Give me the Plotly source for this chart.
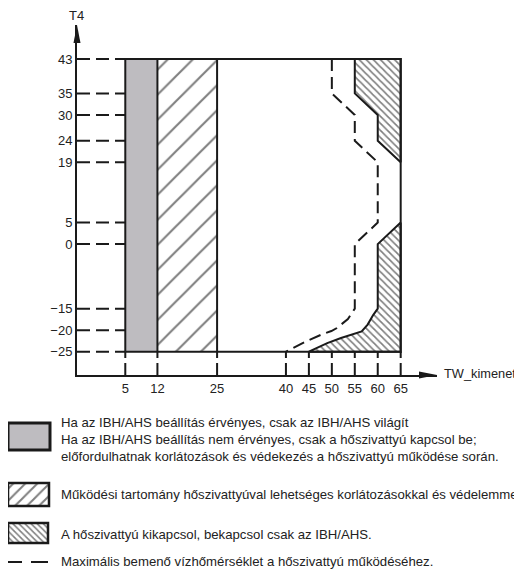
import plotly.graph_objects as go

# ---------------- data ----------------
x_ticks = [5, 12, 25, 40, 45, 50, 55, 60, 65]
y_ticks = [43, 35, 30, 24, 19, 5, 0, -15, -20, -25]
t4_min, t4_max = -25, 43
tw_min, tw_max = 5, 65
ibh_only_tw = [5, 12]
hp_limited_tw = [12, 25]
off_top_tw = [55, 55, 60, 60, 65, 65]
off_top_t4 = [43, 35, 30, 24, 19, 43]
off_bot_tw = [65, 60, 60, 59, 57.8, 56.5, 52, 49, 45, 65]
off_bot_t4 = [5, 0, -15, -16.5, -18.7, -20.3, -21.8, -23, -25, -25]
max_in_tw = [50, 50, 55, 55, 60, 60, 55, 55, 53.5, 51.1, 49.9, 47.8, 44, 40]
max_in_t4 = [43, 35, 30, 24, 19, 5, 0, -15, -17.4, -19.5, -20.2, -21, -22.8, -25]

legend_texts = [
    "Ha az IBH/AHS beállítás érvényes, csak az IBH/AHS világít",
    "Ha az IBH/AHS beállítás nem érvényes, csak a hőszivattyú kapcsol be;",
    "előfordulhatnak korlátozások és védekezés a hőszivattyú működése során.",
    "Működési tartomány hőszivattyúval lehetséges korlátozásokkal és védelemmel.",
    "A hőszivattyú kikapcsol, bekapcsol csak az IBH/AHS.",
    "Maximális bemenő vízhőmérséklet a hőszivattyú működéséhez.",
]

# ---------------- style / layout ----------------
INK = "#1a1a1a"
GRAY = "#bebcc0"
TXT = "#222222"
FONT = "Liberation Sans, Arial, sans-serif"

OFF = 8                      # page body margin
W, H = 522 - OFF, 580 - OFF  # figure size so it fits the window

X_LO, X_HI = -5.52, 72.91
Y_LO, Y_HI = -30.41, 50.9
AX_L, AX_R, AX_T, AX_B = 77, 437, 25, 375  # screen-pixel frame of the axes


def PX(x):
    return (x - OFF) / W


def PY(y):
    return 1 - (y - OFF) / H


fig = go.Figure()


def rect_xy(xs, y0, y1):
    a, b = xs
    return [a, b, b, a, a], [y0, y0, y1, y1, y0]


# IBH/AHS only band (gray)
bx, by = rect_xy(ibh_only_tw, t4_min, t4_max)
fig.add_trace(go.Scatter(x=bx, y=by, mode="lines", fill="toself", fillcolor=GRAY,
                         line=dict(width=0), hoverinfo="skip"))

# heat pump with limits band ("/" hatch)
bx, by = rect_xy(hp_limited_tw, t4_min, t4_max)
fig.add_trace(go.Scatter(x=bx, y=by, mode="lines", fill="toself", fillcolor="white",
                         fillpattern=dict(shape="/", size=17.7, solidity=0.12,
                                          fgcolor="#000000", bgcolor="white"),
                         line=dict(width=0), hoverinfo="skip"))

# heat pump off regions ("\" hatch)
for xs, ys in [(off_top_tw, off_top_t4), (off_bot_tw, off_bot_t4)]:
    fig.add_trace(go.Scatter(x=xs + [xs[0]], y=ys + [ys[0]], mode="lines", fill="toself",
                             fillcolor="white",
                             fillpattern=dict(shape="\\", size=5.0, solidity=0.33,
                                              fgcolor="#000000", bgcolor="white"),
                             line=dict(width=2, color=INK), hoverinfo="skip"))

# dashed tick stubs
sx, sy = [], []
for yv in y_ticks:
    sx += [X_LO, tw_min, None]
    sy += [yv, yv, None]
fig.add_trace(go.Scatter(x=sx, y=sy, mode="lines", line=dict(width=2, color=INK, dash="13px,6px"),
                         hoverinfo="skip"))
sx, sy = [], []
for xv in x_ticks:
    sx += [xv, xv, None]
    sy += [Y_LO, t4_min, None]
fig.add_trace(go.Scatter(x=sx, y=sy, mode="lines", line=dict(width=2, color=INK, dash="12px,5px"),
                         hoverinfo="skip"))

# envelope outline
ex, ey = rect_xy([tw_min, tw_max], t4_min, t4_max)
fig.add_trace(go.Scatter(x=ex, y=ey, mode="lines", line=dict(width=2, color=INK), hoverinfo="skip"))
vx, vy = [], []
for xv in [ibh_only_tw[1], hp_limited_tw[1]]:
    vx += [xv, xv, None]
    vy += [t4_min, t4_max, None]
fig.add_trace(go.Scatter(x=vx, y=vy, mode="lines", line=dict(width=2, color=INK), hoverinfo="skip"))

# maximum inlet water temperature
fig.add_trace(go.Scatter(x=max_in_tw, y=max_in_t4, mode="lines",
                         line=dict(width=2, color=INK, dash="12px,6px"), hoverinfo="skip"))

# ---------------- legend (overlay axes in screen-pixel units) ----------------
lx, ly = rect_xy([8, 50], 423, 450)
fig.add_trace(go.Scatter(x=lx, y=ly, xaxis="x2", yaxis="y2", mode="lines", fill="toself",
                         fillcolor=GRAY, line=dict(width=3, color=INK), hoverinfo="skip"))
lx, ly = rect_xy([8, 49], 483, 506)
fig.add_trace(go.Scatter(x=lx, y=ly, xaxis="x2", yaxis="y2", mode="lines", fill="toself",
                         fillcolor="white",
                         fillpattern=dict(shape="/", size=8.5, solidity=0.24, fgcolor="#000000", bgcolor="white"),
                         line=dict(width=2.5, color=INK), hoverinfo="skip"))
lx, ly = rect_xy([8, 48], 523, 543)
fig.add_trace(go.Scatter(x=lx, y=ly, xaxis="x2", yaxis="y2", mode="lines", fill="toself",
                         fillcolor="white",
                         fillpattern=dict(shape="\\", size=4.3, solidity=0.36, fgcolor="#000000", bgcolor="white"),
                         line=dict(width=2.5, color=INK), hoverinfo="skip"))
fig.add_trace(go.Scatter(x=[8, 22, None, 31, 48], y=[562, 562, None, 562, 562], xaxis="x2", yaxis="y2",
                         mode="lines", line=dict(width=2, color=INK), hoverinfo="skip"))

ann = []
for txt, yp in zip(legend_texts, [422, 439.5, 456, 494, 534, 561]):
    ann.append(dict(x=PX(59), y=PY(yp), xref="paper", yref="paper", text=txt, showarrow=False,
                    xanchor="left", yanchor="middle", font=dict(size=13.2, color=TXT, family=FONT)))
ann.append(dict(x=PX(76), y=PY(15.5), xref="paper", yref="paper", text="T4", showarrow=False,
                xanchor="center", yanchor="middle", font=dict(size=13, color=TXT, family=FONT)))
ann.append(dict(x=PX(442), y=PY(373), xref="paper", yref="paper", text="TW_kimenet", showarrow=False,
                xanchor="left", yanchor="middle", font=dict(size=12.8, color=TXT, family=FONT)))


def P(px, py):
    return f"{PX(px):.5f},{PY(py):.5f}"


shapes = [
    dict(type="path", xref="paper", yref="paper",
         path=f"M{P(AX_L, AX_T)} L{P(AX_L - 3.5, AX_T + 18)} L{P(AX_L + 3.5, AX_T + 18)} Z",
         fillcolor=INK, line=dict(width=0)),
    dict(type="path", xref="paper", yref="paper",
         path=f"M{P(AX_R, AX_B)} L{P(AX_R - 18, AX_B - 3.5)} L{P(AX_R - 18, AX_B + 3.5)} Z",
         fillcolor=INK, line=dict(width=0)),
]

tickfont = dict(size=13, color=TXT, family=FONT)
fig.update_layout(
    width=W, height=H, margin=dict(l=0, r=0, t=0, b=0, pad=0),
    paper_bgcolor="white", plot_bgcolor="rgba(0,0,0,0)", showlegend=False,
    xaxis=dict(domain=[PX(AX_L), PX(AX_R)], range=[X_LO, X_HI], tickmode="array", tickvals=x_ticks,
               ticks="", showgrid=False, zeroline=False, showline=True, linewidth=2, linecolor=INK,
               tickfont=tickfont, fixedrange=True, anchor="y"),
    yaxis=dict(domain=[PY(AX_B), PY(AX_T)], range=[Y_LO, Y_HI], tickmode="array", tickvals=y_ticks,
               ticks="", showgrid=False, zeroline=False, showline=True, linewidth=2, linecolor=INK,
               tickfont=tickfont, fixedrange=True, anchor="x"),
    xaxis2=dict(domain=[0, 1], range=[OFF, OFF + W], visible=False, anchor="y2", fixedrange=True),
    yaxis2=dict(domain=[0, 1], range=[OFF + H, OFF], visible=False, anchor="x2", fixedrange=True),
    annotations=ann, shapes=shapes,
)

fig.write_html("out.html")
